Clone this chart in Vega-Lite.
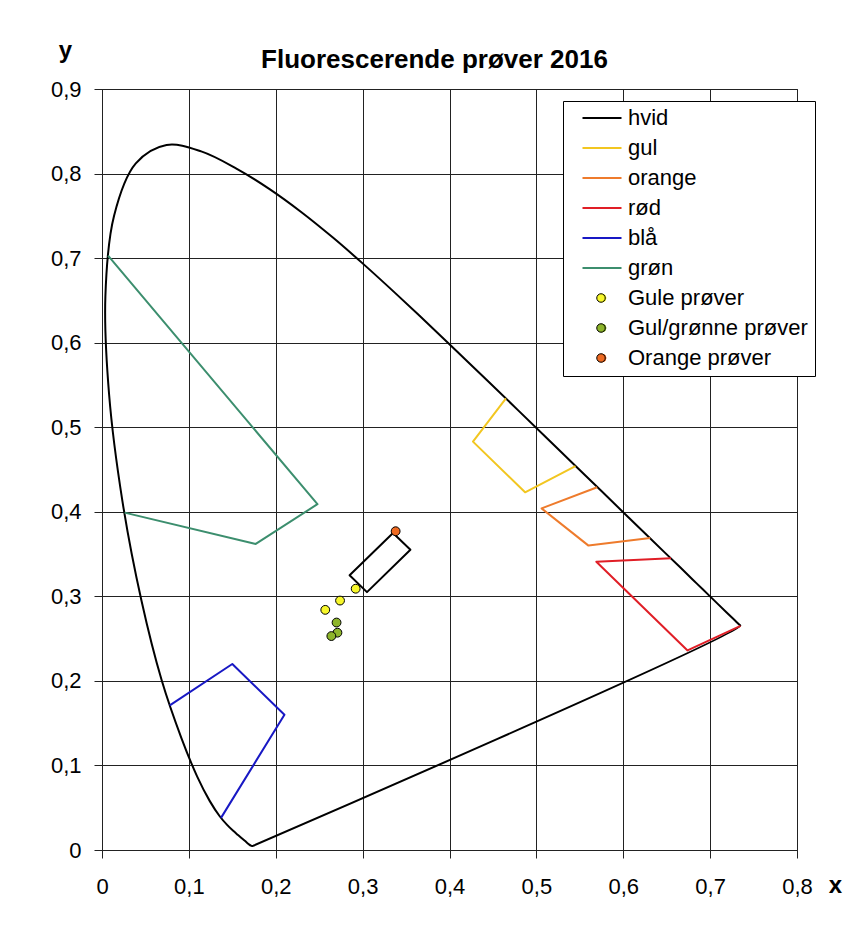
{
  "$schema": "https://vega.github.io/schema/vega-lite/v6.json",
  "autosize": {"type": "none"},
  "padding": {"left": 102, "top": 89, "right": 46, "bottom": 80},
  "width": 695,
  "height": 761,
  "background": "white",
  "title": {"text": "Fluorescerende prøver 2016", "font": "Liberation Sans", "fontSize": 26, "fontWeight": "bold", "color": "black", "anchor": "middle", "frame": "group", "dx": -15, "offset": -56, "baseline": "alphabetic"},
  "datasets": {
    "polys": [
      {"s": "hvid", "g": "locus", "o": 0, "x": 0.1741, "y": 0.0050},
      {"s": "hvid", "g": "locus", "o": 1, "x": 0.1738, "y": 0.0049},
      {"s": "hvid", "g": "locus", "o": 2, "x": 0.1733, "y": 0.0048},
      {"s": "hvid", "g": "locus", "o": 3, "x": 0.1726, "y": 0.0048},
      {"s": "hvid", "g": "locus", "o": 4, "x": 0.1714, "y": 0.0051},
      {"s": "hvid", "g": "locus", "o": 5, "x": 0.1689, "y": 0.0069},
      {"s": "hvid", "g": "locus", "o": 6, "x": 0.1644, "y": 0.0109},
      {"s": "hvid", "g": "locus", "o": 7, "x": 0.1566, "y": 0.0177},
      {"s": "hvid", "g": "locus", "o": 8, "x": 0.1510, "y": 0.0227},
      {"s": "hvid", "g": "locus", "o": 9, "x": 0.1440, "y": 0.0297},
      {"s": "hvid", "g": "locus", "o": 10, "x": 0.1355, "y": 0.0399},
      {"s": "hvid", "g": "locus", "o": 11, "x": 0.1241, "y": 0.0578},
      {"s": "hvid", "g": "locus", "o": 12, "x": 0.1096, "y": 0.0868},
      {"s": "hvid", "g": "locus", "o": 13, "x": 0.0913, "y": 0.1327},
      {"s": "hvid", "g": "locus", "o": 14, "x": 0.0687, "y": 0.2007},
      {"s": "hvid", "g": "locus", "o": 15, "x": 0.0454, "y": 0.2950},
      {"s": "hvid", "g": "locus", "o": 16, "x": 0.0235, "y": 0.4127},
      {"s": "hvid", "g": "locus", "o": 17, "x": 0.0082, "y": 0.5384},
      {"s": "hvid", "g": "locus", "o": 18, "x": 0.0039, "y": 0.6548},
      {"s": "hvid", "g": "locus", "o": 19, "x": 0.0139, "y": 0.7502},
      {"s": "hvid", "g": "locus", "o": 20, "x": 0.0389, "y": 0.8120},
      {"s": "hvid", "g": "locus", "o": 21, "x": 0.0743, "y": 0.8338},
      {"s": "hvid", "g": "locus", "o": 22, "x": 0.1142, "y": 0.8262},
      {"s": "hvid", "g": "locus", "o": 23, "x": 0.1547, "y": 0.8059},
      {"s": "hvid", "g": "locus", "o": 24, "x": 0.1929, "y": 0.7816},
      {"s": "hvid", "g": "locus", "o": 25, "x": 0.2296, "y": 0.7543},
      {"s": "hvid", "g": "locus", "o": 26, "x": 0.2658, "y": 0.7243},
      {"s": "hvid", "g": "locus", "o": 27, "x": 0.3016, "y": 0.6923},
      {"s": "hvid", "g": "locus", "o": 28, "x": 0.3373, "y": 0.6589},
      {"s": "hvid", "g": "locus", "o": 29, "x": 0.3731, "y": 0.6245},
      {"s": "hvid", "g": "locus", "o": 30, "x": 0.4087, "y": 0.5896},
      {"s": "hvid", "g": "locus", "o": 31, "x": 0.4441, "y": 0.5547},
      {"s": "hvid", "g": "locus", "o": 32, "x": 0.4788, "y": 0.5202},
      {"s": "hvid", "g": "locus", "o": 33, "x": 0.5125, "y": 0.4866},
      {"s": "hvid", "g": "locus", "o": 34, "x": 0.5448, "y": 0.4544},
      {"s": "hvid", "g": "locus", "o": 35, "x": 0.5752, "y": 0.4242},
      {"s": "hvid", "g": "locus", "o": 36, "x": 0.6029, "y": 0.3965},
      {"s": "hvid", "g": "locus", "o": 37, "x": 0.6270, "y": 0.3725},
      {"s": "hvid", "g": "locus", "o": 38, "x": 0.6482, "y": 0.3514},
      {"s": "hvid", "g": "locus", "o": 39, "x": 0.6658, "y": 0.3340},
      {"s": "hvid", "g": "locus", "o": 40, "x": 0.6801, "y": 0.3197},
      {"s": "hvid", "g": "locus", "o": 41, "x": 0.6915, "y": 0.3083},
      {"s": "hvid", "g": "locus", "o": 42, "x": 0.7079, "y": 0.2920},
      {"s": "hvid", "g": "locus", "o": 43, "x": 0.7190, "y": 0.2809},
      {"s": "hvid", "g": "locus", "o": 44, "x": 0.7260, "y": 0.2740},
      {"s": "hvid", "g": "locus", "o": 45, "x": 0.7300, "y": 0.2700},
      {"s": "hvid", "g": "locus", "o": 46, "x": 0.7334, "y": 0.2666},
      {"s": "hvid", "g": "locus", "o": 47, "x": 0.7347, "y": 0.2653},
      {"s": "hvid", "g": "locus", "o": 48, "x": 0.1741, "y": 0.0050},
      {"s": "hvid", "g": "box", "o": 0, "x": 0.335, "y": 0.375},
      {"s": "hvid", "g": "box", "o": 1, "x": 0.355, "y": 0.355},
      {"s": "hvid", "g": "box", "o": 2, "x": 0.305, "y": 0.305},
      {"s": "hvid", "g": "box", "o": 3, "x": 0.285, "y": 0.325},
      {"s": "hvid", "g": "box", "o": 4, "x": 0.335, "y": 0.375},
      {"s": "gul", "g": "gul", "o": 0, "x": 0.465, "y": 0.534},
      {"s": "gul", "g": "gul", "o": 1, "x": 0.427, "y": 0.483},
      {"s": "gul", "g": "gul", "o": 2, "x": 0.487, "y": 0.423},
      {"s": "gul", "g": "gul", "o": 3, "x": 0.545, "y": 0.454},
      {"s": "orange", "g": "orange", "o": 0, "x": 0.570, "y": 0.429},
      {"s": "orange", "g": "orange", "o": 1, "x": 0.506, "y": 0.404},
      {"s": "orange", "g": "orange", "o": 2, "x": 0.560, "y": 0.360},
      {"s": "orange", "g": "orange", "o": 3, "x": 0.631, "y": 0.369},
      {"s": "rød", "g": "rød", "o": 0, "x": 0.655, "y": 0.345},
      {"s": "rød", "g": "rød", "o": 1, "x": 0.569, "y": 0.341},
      {"s": "rød", "g": "rød", "o": 2, "x": 0.674, "y": 0.236},
      {"s": "rød", "g": "rød", "o": 3, "x": 0.735, "y": 0.265},
      {"s": "blå", "g": "blå", "o": 0, "x": 0.078, "y": 0.171},
      {"s": "blå", "g": "blå", "o": 1, "x": 0.150, "y": 0.220},
      {"s": "blå", "g": "blå", "o": 2, "x": 0.210, "y": 0.160},
      {"s": "blå", "g": "blå", "o": 3, "x": 0.137, "y": 0.038},
      {"s": "grøn", "g": "grøn", "o": 0, "x": 0.007, "y": 0.703},
      {"s": "grøn", "g": "grøn", "o": 1, "x": 0.248, "y": 0.409},
      {"s": "grøn", "g": "grøn", "o": 2, "x": 0.177, "y": 0.362},
      {"s": "grøn", "g": "grøn", "o": 3, "x": 0.026, "y": 0.399}
    ],
    "pts": [
      {"s": "Gule prøver", "x": 0.292, "y": 0.309},
      {"s": "Gule prøver", "x": 0.274, "y": 0.295},
      {"s": "Gule prøver", "x": 0.257, "y": 0.284},
      {"s": "Gul/grønne prøver", "x": 0.270, "y": 0.269},
      {"s": "Gul/grønne prøver", "x": 0.271, "y": 0.257},
      {"s": "Gul/grønne prøver", "x": 0.264, "y": 0.253},
      {"s": "Orange prøver", "x": 0.338, "y": 0.377}
    ]
  },
  "encoding": {
    "x": {"field": "x", "type": "quantitative",
      "scale": {"domain": [0, 0.8], "nice": false, "zero": false},
      "axis": {"values": [0, 0.1, 0.2, 0.3, 0.4, 0.5, 0.6, 0.7, 0.8],
        "labelExpr": "datum.value == 0 ? '0' : replace(format(datum.value, '.1f'), '.', ',')",
        "title": "x", "titleAngle": 0, "titleX": 733, "titleY": 42, "titleAlign": "center", "titleBaseline": "alphabetic",
        "tickSize": 8, "labelPadding": 18, "labelFontSize": 22, "labelFlush": false}},
    "y": {"field": "y", "type": "quantitative",
      "scale": {"domain": [0, 0.9], "nice": false, "zero": false},
      "axis": {"values": [0, 0.1, 0.2, 0.3, 0.4, 0.5, 0.6, 0.7, 0.8, 0.9],
        "labelExpr": "datum.value == 0 ? '0' : replace(format(datum.value, '.1f'), '.', ',')",
        "title": "y", "titleAngle": 0, "titleX": -37, "titleY": -32, "titleAlign": "center", "titleBaseline": "alphabetic",
        "tickSize": 8, "labelPadding": 13, "labelFontSize": 22, "labelFlush": false}}
  },
  "layer": [
    {
      "data": {"name": "polys"},
      "transform": [{"filter": "datum.g == 'locus'"}],
      "mark": {"type": "line", "strokeWidth": 2, "strokeJoin": "round", "interpolate": "catmull-rom"},
      "encoding": {
        "color": {"field": "s", "type": "nominal",
          "scale": {"domain": ["hvid", "gul", "orange", "rød", "blå", "grøn", "Gule prøver", "Gul/grønne prøver", "Orange prøver"],
                    "range": ["#000000", "#F2C620", "#EE7B2C", "#E01E26", "#1818C4", "#3C8E6E", "#F7F72A", "#8DB52A", "#EE6A22"]},
          "legend": {"orient": "none", "legendX": 461, "legendY": 12, "title": null,
            "fillColor": "white", "strokeColor": "black", "padding": 7,
            "symbolSize": 1521, "symbolOffset": 21, "labelOffset": 15, "clipHeight": 20, "rowPadding": 8,
            "labelFontSize": 22, "labelColor": "black", "labelLimit": 300,
            "encode": {"symbols": {"update": {
              "shape": {"signal": "indexof(['Gule prøver','Gul/grønne prøver','Orange prøver'], datum.value) >= 0 ? 'circle' : 'stroke'"},
              "size": {"signal": "indexof(['Gule prøver','Gul/grønne prøver','Orange prøver'], datum.value) >= 0 ? 64 : 1521"},
              "fill": {"signal": "indexof(['Gule prøver','Gul/grønne prøver','Orange prøver'], datum.value) >= 0 ? scale('color', datum.value) : 'transparent'"},
              "strokeWidth": {"signal": "indexof(['Gule prøver','Gul/grønne prøver','Orange prøver'], datum.value) >= 0 ? 1 : 2"}
            }}}}},
        "detail": {"field": "g"},
        "order": {"field": "o", "type": "quantitative"}
      }
    },
    {
      "data": {"name": "polys"},
      "transform": [{"filter": "datum.g != 'locus'"}],
      "mark": {"type": "line", "strokeWidth": 2, "strokeJoin": "round"},
      "encoding": {
        "color": {"field": "s", "type": "nominal",
          "scale": {"domain": ["hvid", "gul", "orange", "rød", "blå", "grøn", "Gule prøver", "Gul/grønne prøver", "Orange prøver"],
                    "range": ["#000000", "#F2C620", "#EE7B2C", "#E01E26", "#1818C4", "#3C8E6E", "#F7F72A", "#8DB52A", "#EE6A22"]}},
        "detail": {"field": "g"},
        "order": {"field": "o", "type": "quantitative"}
      }
    },
    {
      "data": {"name": "pts"},
      "mark": {"type": "point", "filled": true, "shape": "circle", "size": 78, "stroke": "black", "strokeWidth": 1, "opacity": 1},
      "encoding": {
        "fill": {"field": "s", "type": "nominal",
          "scale": {"domain": ["Gule prøver", "Gul/grønne prøver", "Orange prøver"],
                    "range": ["#F7F72A", "#8DB52A", "#EE6A22"]},
          "legend": {"orient": "none", "legendX": 461, "legendY": 192, "title": null,
            "padding": 7, "symbolType": "circle", "symbolSize": 72, "symbolOffset": 20, "symbolStrokeWidth": 1,
            "labelOffset": 15, "clipHeight": 20, "rowPadding": 8,
            "labelFontSize": 22, "labelExpr": "''", "labelLimit": 300}}
      }
    }
  ],
  "config": {
    "font": "Liberation Sans",
    "view": {"stroke": "#222", "strokeWidth": 1},
    "axis": {"grid": true, "gridColor": "#222", "gridOpacity": 1, "gridWidth": 1,
      "domainColor": "#222", "domainWidth": 1, "tickColor": "#222", "tickWidth": 1,
      "labelColor": "black", "labelFont": "Liberation Sans",
      "titleColor": "black", "titleFont": "Liberation Sans", "titleFontSize": 24, "titleFontWeight": "bold"},
    "legend": {"labelFont": "Liberation Sans"}
  }
}
